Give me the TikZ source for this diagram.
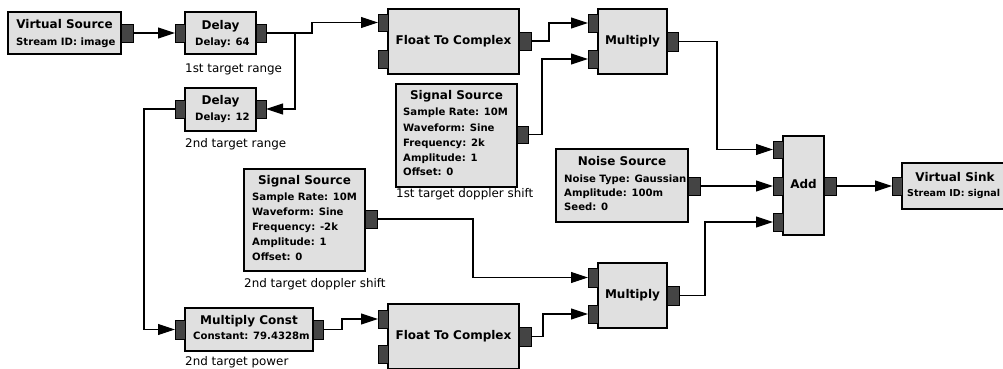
\documentclass[tikz,border=0pt]{standalone}
\usepackage{fontspec}
\setmainfont{DejaVu Sans}
\usetikzlibrary{arrows.meta}
\definecolor{blockgray}{RGB}{224,224,224}
\definecolor{portgray}{RGB}{68,68,68}
\tikzset{
  blk/.style={draw=black, fill=blockgray, line width=1.1pt, inner sep=0pt, outer sep=0pt, anchor=north west},
  port/.style={draw=black, fill=portgray, line width=1pt, inner sep=0pt, outer sep=0pt, anchor=north west},
  ttl/.style={font=\bfseries\fontsize{12}{13}\selectfont, inner sep=0pt, anchor=mid},
  prm/.style={font=\bfseries\fontsize{10.1}{11}\selectfont, inner sep=0pt, anchor=mid west},
  cmt/.style={font=\fontsize{11.9}{13}\selectfont, inner sep=0pt, anchor=mid west},
  wire/.style={draw=black, line width=1.1pt, -{Triangle[length=17pt,width=11pt]}}
}
\newcommand\rbox[6]{\node[#1, minimum width={(#5-#3)*1pt}, minimum height={(#6-#4)*1pt}] (#2) at (#3,#4) {};}
\begin{document}
\begin{tikzpicture}[x=1pt,y=-1pt]
\clip (0,0) rectangle (1003,368);
\useasboundingbox (0,0) rectangle (1003,368);
\fill[white] (0,0) rectangle (1003,368);

% blocks
\rbox{blk}{vs}{8}{12}{121}{54}
\rbox{blk}{d1}{185}{12}{256}{54}
\rbox{blk}{d2}{185}{88}{256}{131}
\rbox{blk}{ftc1}{388}{9}{519}{74}
\rbox{blk}{m1}{598}{9}{667}{74}
\rbox{blk}{ss1}{396}{84}{517}{187}
\rbox{blk}{add}{783}{136}{824}{235}
\rbox{blk}{ns}{556}{149}{688}{222}
\rbox{blk}{vsk}{902}{163}{1020}{209}
\rbox{blk}{ss2}{244}{169}{365}{271}
\rbox{blk}{mc}{185}{308}{313}{351}
\rbox{blk}{ftc2}{388}{304}{519}{369}
\rbox{blk}{m2}{598}{263}{667}{328}

% ports
\rbox{port}{vso}{121}{24}{133}{42}
\rbox{port}{d1i}{175}{24}{185}{42}
\rbox{port}{d1o}{256}{24}{266}{42}
\rbox{port}{d2o}{175}{100}{185}{118}
\rbox{port}{d2i}{256}{100}{266}{118}
\rbox{port}{f1i1}{378}{14}{388}{31}
\rbox{port}{f1i2}{378}{50}{388}{68}
\rbox{port}{f1o}{519}{32}{531}{50}
\rbox{port}{m1i1}{588}{14}{598}{32}
\rbox{port}{m1i2}{588}{50}{598}{68}
\rbox{port}{m1o}{667}{32}{678}{51}
\rbox{port}{ss1o}{517}{126}{528}{143}
\rbox{port}{addi1}{773}{141}{783}{158}
\rbox{port}{addi2}{773}{177}{783}{195}
\rbox{port}{addi3}{773}{213}{783}{231}
\rbox{port}{addo}{824}{177}{836}{195}
\rbox{port}{nso}{688}{177}{700}{195}
\rbox{port}{vski}{892}{177}{902}{195}
\rbox{port}{ss2o}{365}{210}{377}{228}
\rbox{port}{mci}{175}{320}{185}{339}
\rbox{port}{mco}{313}{320}{323}{339}
\rbox{port}{f2i1}{378}{310}{388}{328}
\rbox{port}{f2i2}{378}{345}{388}{363}
\rbox{port}{f2o}{519}{327}{531}{346}
\rbox{port}{m2i1}{588}{268}{598}{287}
\rbox{port}{m2i2}{588}{305}{598}{323}
\rbox{port}{m2o}{667}{286}{679}{305}

% texts
\node[ttl] (vst) at (64.5,26) {Virtual Source};
\node[prm] (vsp) at (16,43) {Stream ID: image};
\node[ttl] (d1t) at (220.5,27) {Delay};
\node[prm] (d1p) at (195,43) {Delay: 64};
\node[cmt] (d1c) at (185,70) {1st target range};
\node[ttl] (d2t) at (220.5,102) {Delay};
\node[prm] (d2p) at (195,117.5) {Delay: 12};
\node[cmt] (d2c) at (185,145) {2nd target range};
\node[ttl] (f1t) at (453.5,41.5) {Float To Complex};
\node[ttl] (m1t) at (632.5,41.5) {Multiply};
\node[ttl] (s1t) at (456.5,97) {Signal Source};
\node[prm] (s1p1) at (403,113) {Sample Rate: 10M};
\node[prm] (s1p2) at (403,129) {Waveform: Sine};
\node[prm] (s1p3) at (403,144) {Frequency: 2k};
\node[prm] (s1p4) at (403,159) {Amplitude: 1};
\node[prm] (s1p5) at (403,173) {Offset: 0};
\node[cmt] (s1c) at (396,195) {1st target doppler shift};
\node[ttl] (addt) at (803.5,186) {Add};
\node[ttl] (nst) at (622,163) {Noise Source};
\node[prm] (nsp1) at (564,180) {Noise Type: Gaussian};
\node[prm] (nsp2) at (564,194) {Amplitude: 100m};
\node[prm] (nsp3) at (564,208) {Seed: 0};
\node[ttl] (vskt) at (955,179) {Virtual Sink};
\node[prm, font=\bfseries\fontsize{9.5}{11}\selectfont] (vskp) at (907,194) {Stream ID: signal};
\node[ttl] (s2t) at (304.5,182) {Signal Source};
\node[prm] (s2p1) at (252,198) {Sample Rate: 10M};
\node[prm] (s2p2) at (252,213) {Waveform: Sine};
\node[prm] (s2p3) at (252,228) {Frequency: -2k};
\node[prm] (s2p4) at (252,243) {Amplitude: 1};
\node[prm] (s2p5) at (252,258) {Offset: 0};
\node[cmt] (s2c) at (244,285) {2nd target doppler shift};
\node[ttl] (mct) at (249,322) {Multiply Const};
\node[prm] (mcp) at (193,337) {Constant: 79.4328m};
\node[cmt] (mcc) at (185,363) {2nd target power};
\node[ttl] (f2t) at (453.5,336.5) {Float To Complex};
\node[ttl] (m2t) at (632.5,295.5) {Multiply};

% bend columns
\coordinate (b1) at (312,0);
\coordinate (b2) at (295,0);
\coordinate (b3) at (144,0);
\coordinate (b4) at (342,0);
\coordinate (b5) at (549,0);
\coordinate (b6) at (542,0);
\coordinate (b7) at (717,0);
\coordinate (b8) at (473,0);
\coordinate (b9) at (543,0);
\coordinate (b10) at (705,0);

% connections
\draw[wire] (vso.east) -- (d1i.west);
\draw[wire] (d1o.east) -- (d1o.east -| b1) |- (f1i1.west);
\draw[wire] (d1o.east -| b2) |- (d2i.east);
\draw[wire] (d2o.west) -- (d2o.west -| b3) |- (mci.west);
\draw[wire] (mco.east) -- (mco.east -| b4) |- (f2i1.west);
\draw[wire] (f1o.east) -- (f1o.east -| b5) |- (m1i1.west);
\draw[wire] (ss1o.east) -- (ss1o.east -| b6) |- (m1i2.west);
\draw[wire] (m1o.east) -- (m1o.east -| b7) |- (addi1.west);
\draw[wire] (nso.east) -- (addi2.west);
\draw[wire] (ss2o.east) -- (ss2o.east -| b8) |- (m2i1.west);
\draw[wire] (f2o.east) -- (f2o.east -| b9) |- (m2i2.west);
\draw[wire] (m2o.east) -- (m2o.east -| b10) |- (addi3.west);
\draw[wire] (addo.east) -- (vski.west);
\end{tikzpicture}
\end{document}
